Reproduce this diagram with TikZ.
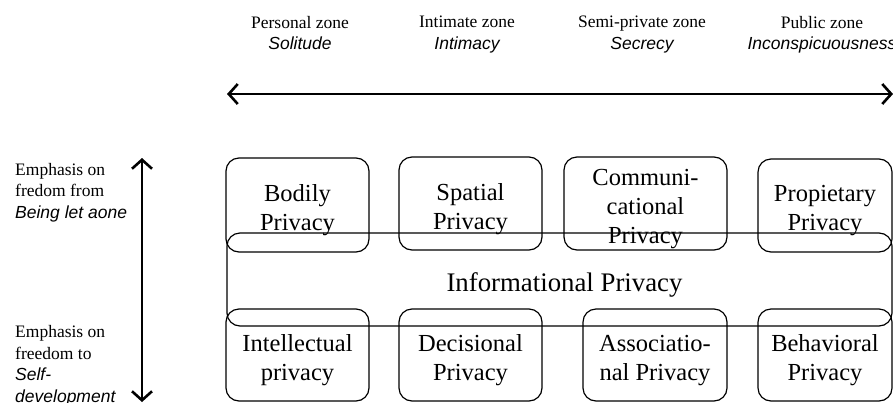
\documentclass[tikz,border=0pt]{standalone}
\usepackage{fontspec}
\setmainfont{Liberation Serif}
\newfontfamily\itsans{Liberation Sans}
\usetikzlibrary{arrows.meta}
\tikzset{
  zone/.style={anchor=north, inner sep=0pt, align=center, font=\fontsize{17.5}{21.5}\selectfont},
  side/.style={anchor=north west, inner sep=0pt, align=left, font=\fontsize{17.5}{21.5}\selectfont},
  pbox/.style={draw, line width=1.2pt, rounded corners=13pt, inner sep=0pt},
  boxtext/.style={align=center, inner sep=0pt, yshift=-5.5pt, font=\fontsize{24.5}{29}\selectfont},
  infobox/.style={draw, line width=1.2pt, rounded corners=13pt, inner sep=0pt},
  bigarrow/.style={line width=2.6pt, {Straight Barb[length=9pt,width=20pt,line width=2.6pt]}-{Straight Barb[length=9pt,width=20pt,line width=2.6pt]}}
}
\newcommand{\isf}[1]{{\itsans\itshape #1}}
\begin{document}
\begin{tikzpicture}[x=1pt,y=-1pt]
\useasboundingbox (0,0) rectangle (893,402);

% zone labels
\node[zone] (z1) at (300,16) {Personal zone\\\isf{Solitude}};
\node[zone] (z2) at (467,16) {Intimate zone\\\isf{Intimacy}};
\node[zone] (z3) at (642,16) {Semi-private zone\\\isf{Secrecy}};
\node[zone] (z4) at (822,16) {Public zone\\\isf{Inconspicuousness}};

% horizontal arrow
\coordinate (hl) at (227,94);
\coordinate (hr) at (893,94);
\draw[bigarrow] (hl) -- (hr);

% side labels
\node[side] (s1) at (15,163) {Emphasis on\\fredom from\\\isf{Being let aone}};
\node[side] (s2) at (15,325.5) {Emphasis on\\freedom to\\\isf{Self-}\\\isf{development}};

% vertical arrow
\coordinate (vt) at (142,158);
\coordinate (vb) at (142,402);
\draw[bigarrow] (vt) -- (vb);

% informational privacy box
\node[infobox, minimum width=665pt, minimum height=93pt] (info) at (559.5,279.5) {};
\node[inner sep=0pt, font=\fontsize{26.8}{31}\selectfont] (infolabel) at (564.5,285) {Informational Privacy};

% top boxes
\node[pbox, minimum width=143pt, minimum height=94pt,
  label={[boxtext]center:Bodily\\Privacy}] (bodily) at (297.5,205) {};
\node[pbox, minimum width=143pt, minimum height=93pt,
  label={[boxtext]center:Spatial\\Privacy}] (spatial) at (470.5,203.5) {};
\node[pbox, minimum width=163pt, minimum height=93pt,
  label={[boxtext]center:Communi-\\cational\\Privacy}] (comm) at (645.5,203.5) {};
\node[pbox, minimum width=134pt, minimum height=93pt,
  label={[boxtext]center:Propietary\\Privacy}] (prop) at (825,205.5) {};

% bottom boxes
\node[pbox, minimum width=143pt, minimum height=92pt,
  label={[boxtext]center:Intellectual\\privacy}] (intel) at (297.5,355) {};
\node[pbox, minimum width=143pt, minimum height=92pt,
  label={[boxtext]center:Decisional\\Privacy}] (decis) at (470.5,355) {};
\node[pbox, minimum width=144pt, minimum height=92pt,
  label={[boxtext]center:Associatio-\\nal Privacy}] (assoc) at (655,355) {};
\node[pbox, minimum width=134pt, minimum height=92pt,
  label={[boxtext]center:Behavioral\\Privacy}] (behav) at (825,355) {};
\end{tikzpicture}
\end{document}
